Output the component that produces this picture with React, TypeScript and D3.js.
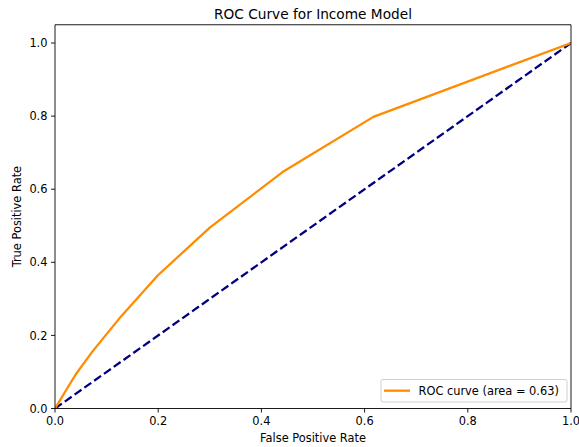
import React from "react";
import * as d3 from "d3";

const fpr = [0, 0.04, 0.072, 0.128, 0.199, 0.3, 0.441, 0.617, 1];
const tpr = [0, 0.093, 0.155, 0.252, 0.364, 0.495, 0.647, 0.798, 1];
const diagX = [0, 1];
const diagY = [0, 1];
const xTicks = [0, 0.2, 0.4, 0.6, 0.8, 1.0];
const yTicks = [0, 0.2, 0.4, 0.6, 0.8, 1.0];
const title = "ROC Curve for Income Model";
const xLabel = "False Positive Rate";
const yLabel = "True Positive Rate";
const legendLabel = "ROC curve (area = 0.63)";

export default function App() {
  const W = 579, H = 447;
  const left = 55, right = 571, top = 24.75, bottom = 408.5;
  const x = d3.scaleLinear().domain([0, 1]).range([left, right]);
  const y = d3.scaleLinear().domain([0, 1.05]).range([bottom, top]);
  const font = "'DejaVu Sans', sans-serif";
  const line = d3.line<[number, number]>().x(d => x(d[0])).y(d => y(d[1]));
  const roc = line(fpr.map((v, i) => [v, tpr[i]] as [number, number]));
  const diag = line(diagX.map((v, i) => [v, diagY[i]] as [number, number]));
  return (
    <svg width={W} height={H} style={{ position: "absolute", left: 0, top: 0, background: "#fff" }} fontFamily={font}>
      <rect x={0} y={0} width={W} height={H} fill="#fff" />
      <defs>
        <clipPath id="clip"><rect x={left} y={top} width={right - left} height={bottom - top} /></clipPath>
      </defs>
      <g clipPath="url(#clip)">
        <path d={diag || ""} fill="none" stroke="#000080" strokeWidth={2.28} strokeDasharray="8.4,3.6" />
        <path d={roc || ""} fill="none" stroke="#ff8c00" strokeWidth={2.28} strokeLinejoin="round" />
      </g>
      {/* spines */}
      <line x1={left} x2={left} y1={top} y2={bottom} stroke="#000" strokeWidth={0.9} />
      <line x1={right} x2={right} y1={top} y2={bottom} stroke="#000" strokeWidth={0.9} />
      <line x1={left} x2={right} y1={top} y2={top} stroke="#000" strokeWidth={0.9} />
      <line x1={left} x2={right} y1={bottom} y2={bottom} stroke="#000" strokeWidth={0.9} />
      {/* x ticks */}
      {xTicks.map(t => (
        <g key={"x" + t}>
          <line x1={x(t)} x2={x(t)} y1={bottom} y2={bottom + 4} stroke="#000" strokeWidth={0.9} />
          <text x={x(t)} y={bottom + 16.5} fontSize={11.4} textAnchor="middle" fill="#000">{t.toFixed(1)}</text>
        </g>
      ))}
      {/* y ticks */}
      {yTicks.map(t => (
        <g key={"y" + t}>
          <line x1={left - 4} x2={left} y1={y(t)} y2={y(t)} stroke="#000" strokeWidth={0.9} />
          <text x={left - 7.5} y={y(t) + 4.1} fontSize={11.4} textAnchor="end" fill="#000">{t.toFixed(1)}</text>
        </g>
      ))}
      <text x={(left + right) / 2} y={18.5} fontSize={13.7} textAnchor="middle" fill="#000">{title}</text>
      <text x={(left + right) / 2} y={441.5} fontSize={11.4} textAnchor="middle" fill="#000">{xLabel}</text>
      <text transform={`translate(21,${(top + bottom) / 2}) rotate(-90)`} fontSize={11.4} textAnchor="middle" fill="#000">{yLabel}</text>
      {/* legend */}
      <rect x={381} y={379.5} width={186} height={22.5} rx={2} fill="#fff" fillOpacity={0.8} stroke="#cccccc" strokeWidth={0.9} />
      <line x1={384} x2={410} y1={390.7} y2={390.7} stroke="#ff8c00" strokeWidth={2.28} />
      <text x={418.5} y={394.8} fontSize={11.4} fill="#000">{legendLabel}</text>
    </svg>
  );
}
